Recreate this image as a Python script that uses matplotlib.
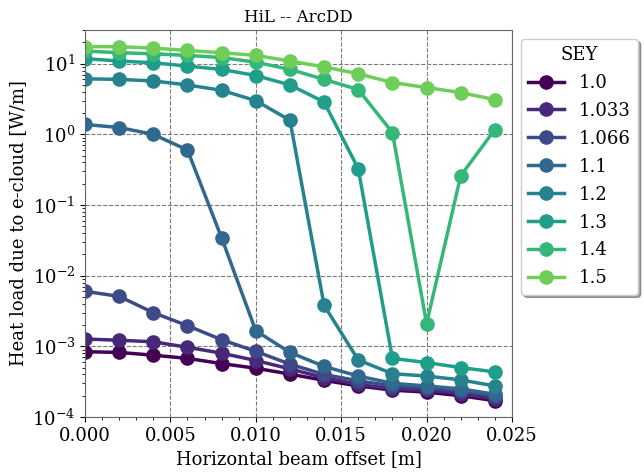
import numpy as np
import matplotlib
matplotlib.use('Agg')
import matplotlib.pyplot as plt
from matplotlib.ticker import AutoMinorLocator

plt.rcParams['font.family'] = 'DejaVu Serif'
plt.rcParams['mathtext.fontset'] = 'dejavuserif'

offsets = [0.0, 0.002, 0.004, 0.006, 0.008, 0.010, 0.012,
           0.014, 0.016, 0.018, 0.020, 0.022, 0.024]
sey_labels = ['1.0', '1.033', '1.066', '1.1', '1.2', '1.3', '1.4', '1.5']

hl_10 = [8.4e-4, 8.2e-4, 7.5e-4, 6.75e-4, 5.7e-4, 4.9e-4, 4.05e-4,
         3.3e-4, 2.75e-4, 2.4e-4, 2.25e-4, 2.0e-4, 1.7e-4]
hl_1033 = [1.27e-3, 1.22e-3, 1.16e-3, 9.7e-4, 8.0e-4, 6.3e-4, 4.8e-4,
           3.6e-4, 2.9e-4, 2.5e-4, 2.4e-4, 2.15e-4, 1.8e-4]
hl_1066 = [6.0e-3, 5.1e-3, 3.0e-3, 1.96e-3, 1.24e-3, 8.5e-4, 5.6e-4,
           4.0e-4, 3.25e-4, 2.75e-4, 2.6e-4, 2.35e-4, 2.0e-4]
hl_11 = [1.38, 1.25, 1.0, 0.6, 0.0343, 1.66e-3, 8.2e-4,
         5.2e-4, 3.8e-4, 3.0e-4, 2.75e-4, 2.5e-4, 2.1e-4]
hl_12 = [6.1, 6.0, 5.7, 5.0, 4.2, 3.0, 1.58,
         3.8e-3, 6.4e-4, 4.1e-4, 3.8e-4, 3.35e-4, 2.75e-4]
hl_13 = [11.8, 10.9, 10.3, 9.25, 8.3, 6.8, 5.0,
         2.87, 0.326, 6.75e-4, 5.9e-4, 5.0e-4, 4.35e-4]
hl_14 = [15.1, 14.3, 13.8, 13.1, 12.2, 10.5, 8.3,
         6.0, 4.3, 1.06, 2.1e-3, 0.26, 1.17]
hl_15 = [17.4, 17.4, 16.6, 15.4, 14.3, 13.1, 10.9,
         9.0, 7.2, 5.4, 4.6, 3.9, 3.1]

series = [hl_10, hl_1033, hl_1066, hl_11, hl_12, hl_13, hl_14, hl_15]

fig = plt.figure(figsize=(6.44, 4.72), dpi=100)
ax = fig.add_axes([0.132, 0.1165, 0.663, 0.82])

# viridis, stepping i/9
colors = plt.cm.viridis(np.linspace(0, 1, 10))
for i, (lab, vals) in enumerate(zip(sey_labels, series)):
    ax.semilogy(offsets, vals, '.-', color=colors[i], lw=2.5,
                markersize=19, label=lab)

ax.set_xlim(0, 0.025)
ax.set_ylim(1e-4, 30)
ax.xaxis.set_minor_locator(AutoMinorLocator(5))
ax.grid(True, which='major', linestyle='--', color='0.35', alpha=0.8, lw=0.8)
ax.tick_params(labelsize=13)
ax.set_xlabel('Horizontal beam offset [m]', fontsize=13)
ax.set_ylabel('Heat load due to e-cloud [W/m]', fontsize=13)
ax.set_title('HiL -- ArcDD', fontsize=12)
for sp in ax.spines.values():
    sp.set_color('0.4')

ax.legend(title='SEY', loc='upper left', bbox_to_anchor=(0.809, 0.918),
          bbox_transform=fig.transFigure, borderaxespad=0, fontsize=13,
          title_fontsize=13, shadow=True, fancybox=True, handlelength=2.0,
          labelspacing=0.55)

fig.savefig('out.png', dpi=100)
